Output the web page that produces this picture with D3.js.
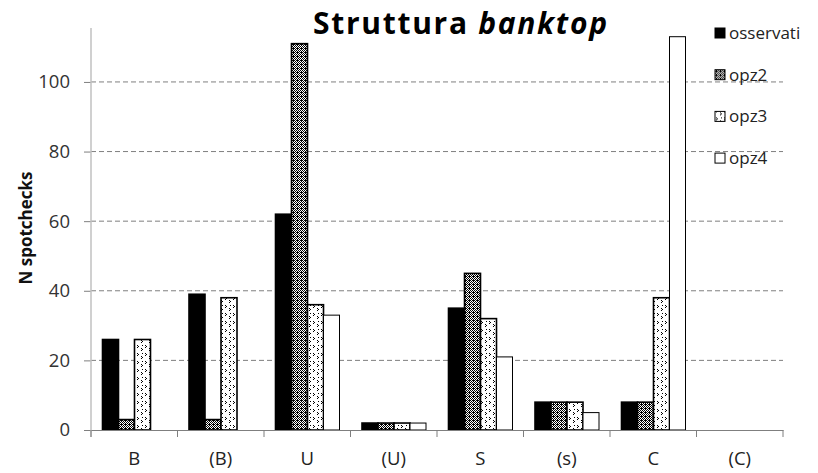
<!DOCTYPE html>
<html><head><meta charset="utf-8">
<script src="https://cdn.jsdelivr.net/npm/d3@7"></script>
<style>body{margin:0;background:#fff}</style>
</head><body>
<svg id="c" width="818" height="473"></svg>
<script>
const categories = ["B","(B)","U","(U)","S","(s)","C","(C)"];
const seriesNames = ["osservati","opz2","opz3","opz4"];
const osservati = [26,39,62,2,35,8,8,0];
const opz2 = [3,3,111,2,45,8,8,0];
const opz3 = [26,38,36,2,32,8,38,0];
const opz4 = [0,0,33,2,21,5,113,0];
const yTicks = [0,20,40,60,80,100];
const seriesValues = [osservati,opz2,opz3,opz4];

const FONT = "Open Sans, sans-serif";
const svg = d3.select("#c");
const defs = svg.append("defs");
// opz2 dense checker pattern
const p2 = defs.append("pattern").attr("id","p2").attr("patternUnits","userSpaceOnUse").attr("width",4).attr("height",4);
p2.append("rect").attr("width",4).attr("height",4).attr("fill","#fff");
[[0,0],[2,0],[1,1],[3,1],[0,2],[2,2],[1,3],[3,3],[1,0]].forEach(([x,y])=>p2.append("rect").attr("x",x).attr("y",y).attr("width",1).attr("height",1).attr("fill","#000"));
// opz3 sparse marks pattern
const p3 = defs.append("pattern").attr("id","p3").attr("patternUnits","userSpaceOnUse").attr("width",8).attr("height",8);
p3.append("rect").attr("width",8).attr("height",8).attr("fill","#fff");
[[1,1],[2,2],[1,3],[5,4],[6,5],[5,6],[6,1]].forEach(([x,y])=>p3.append("rect").attr("x",x).attr("y",y).attr("width",1).attr("height",1).attr("fill","#000"));

const fills = ["#000","url(#p2)","url(#p3)","#fff"];

const x0 = d3.scaleBand().domain(categories).range([91,783]).padding(0);
const x1 = d3.scaleBand().domain(seriesNames).range([11.5, x0.bandwidth()-11]).padding(0);
const y = d3.scaleLinear().domain([0,115.5]).range([430,28]);

// gridlines
svg.append("g").selectAll("line").data(yTicks.filter(d=>d>0)).join("line")
  .attr("x1",91).attr("x2",783).attr("y1",d=>y(d)).attr("y2",d=>y(d))
  .attr("stroke","#7f7f7f").attr("stroke-width",1).attr("stroke-dasharray","5,3");

// y axis
const ya = svg.append("g").attr("transform","translate(91,0)")
  .call(d3.axisLeft(y).tickValues(yTicks).tickSize(7).tickPadding(14));
ya.select(".domain").remove();
ya.selectAll(".tick line").attr("stroke","#7f7f7f");
ya.selectAll(".tick text").attr("font-family",FONT).attr("font-size",18.5).attr("fill","#333");
svg.append("line").attr("x1",91).attr("x2",91).attr("y1",28).attr("y2",437).attr("stroke","#c0c0c0").attr("stroke-width",1.5);

// bars
const groups = svg.append("g").selectAll("g").data(seriesNames).join("g");
groups.each(function(s,si){
  d3.select(this).selectAll("rect").data(categories.map((c,i)=>({c,v:seriesValues[si][i]})).filter(d=>d.v>0)).join("rect")
    .attr("x",d=>x0(d.c)+x1(s)).attr("width",x1.bandwidth())
    .attr("y",d=>y(d.v)).attr("height",d=>y(0)-y(d.v))
    .attr("fill",fills[si]).attr("stroke","#000").attr("stroke-width",si===3?1:1.6);
});

// x axis
const xa = svg.append("g").attr("transform","translate(0,430)")
  .call(d3.axisBottom(x0).tickSize(0).tickPadding(22));
xa.select(".domain").attr("stroke","#7f7f7f").attr("stroke-width",1.2);
xa.selectAll(".tick text").attr("font-family",FONT).attr("font-size",18.5).attr("fill","#222");
svg.append("g").selectAll("line").data(d3.range(categories.length+1)).join("line")
  .attr("x1",i=>91+i*x0.step()).attr("x2",i=>91+i*x0.step()).attr("y1",430).attr("y2",437)
  .attr("stroke","#7f7f7f");

// title
const t = svg.append("text").attr("x",313).attr("y",34)
  .attr("textLength",294).attr("lengthAdjust","spacing")
  .attr("font-family",FONT).attr("font-size",30).attr("font-weight","bold").attr("fill","#000");
t.append("tspan").text("Struttura ");
t.append("tspan").attr("font-style","italic").text("banktop");

// y label
svg.append("text").attr("transform","translate(32,228) rotate(-90)").attr("text-anchor","middle")
  .attr("font-family",FONT).attr("font-size",17).attr("font-weight","bold").attr("fill","#111").text("N spotchecks");

// legend
const lg = svg.append("g").selectAll("g").data(seriesNames).join("g")
  .attr("transform",(d,i)=>`translate(715,${33+i*41.7})`);
lg.append("rect").attr("x",0).attr("y",-5).attr("width",10).attr("height",10)
  .attr("fill",(d,i)=>fills[i]).attr("stroke","#000").attr("stroke-width",1);
lg.append("text").attr("x",14).attr("y",6).attr("font-family",FONT).attr("font-size",17).attr("fill","#222").text(d=>d);
</script>
</body></html>
